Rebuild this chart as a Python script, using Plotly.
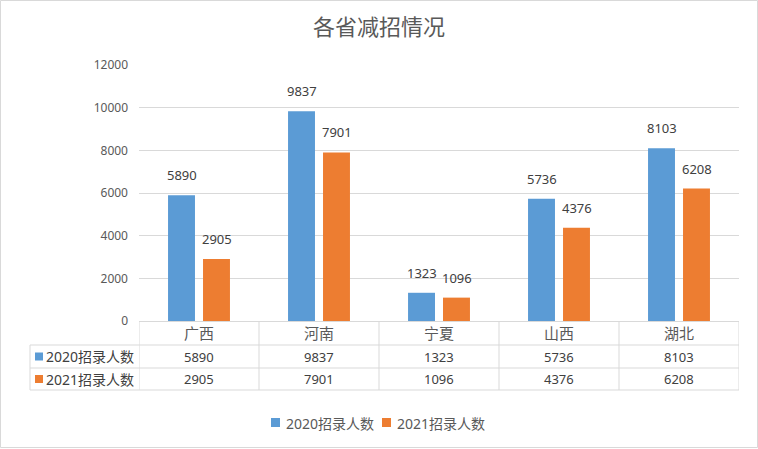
import plotly.graph_objects as go

categories = ["广西", "河南", "宁夏", "山西", "湖北"]
series_names = ["2020招录人数", "2021招录人数"]
values_2020 = [5890, 9837, 1323, 5736, 8103]
values_2021 = [2905, 7901, 1096, 4376, 6208]
colors = ["#5B9BD5", "#ED7D31"]
title_text = "各省减招情况"

FONT = "Noto Sans, Noto Sans CJK SC, sans-serif"
W, H = 758, 449
L, R, T, B = 139, 19, 65, 128
PW, PH = W - L - R, H - T - B

def px_y(y):  # pixel y -> paper y
    return (H - B - y) / PH

def px_x(x):
    return (x - L) / PW

fig = go.Figure()
for name, vals, c in zip(series_names, [values_2020, values_2021], colors):
    fig.add_trace(go.Bar(x=categories, y=vals, name=name, marker_color=c,
                         marker_line_width=0, showlegend=False))

ann = []
shapes = []
# data labels
for vals, sh in [(values_2020, -17.5), (values_2021, 17.5)]:
    for cat, v in zip(categories, vals):
        ann.append(dict(x=cat, y=v, xref="x", yref="y", text=str(v), showarrow=False,
                        xshift=sh, yshift=9, yanchor="bottom", xanchor="center",
                        font=dict(family=FONT, size=13, color="#404040")))

# data table
line_c = "#D9D9D9"
y_rows = [px_y(345), px_y(368), px_y(390)]
for yy in y_rows:
    shapes.append(dict(type="line", xref="paper", yref="paper", x0=px_x(30), x1=1,
                       y0=yy, y1=yy, line=dict(color=line_c, width=1)))
shapes.append(dict(type="line", xref="paper", yref="paper", x0=px_x(30), x1=px_x(30),
                   y0=y_rows[0], y1=y_rows[2], line=dict(color=line_c, width=1)))
for i in range(len(categories) + 1):
    shapes.append(dict(type="line", xref="x", yref="paper", x0=i - 0.5, x1=i - 0.5,
                       y0=0, y1=y_rows[2], line=dict(color=line_c, width=1)))
for cat in categories:
    ann.append(dict(x=cat, y=px_y(333), xref="x", yref="paper", text=cat, showarrow=False,
                    xanchor="center", yanchor="middle",
                    font=dict(family=FONT, size=15, color="#595959")))
for row_y, vals in zip([px_y(356.5), px_y(379)], [values_2020, values_2021]):
    for cat, v in zip(categories, vals):
        ann.append(dict(x=cat, y=row_y, xref="x", yref="paper", text=str(v), showarrow=False,
                        xanchor="center", yanchor="middle",
                        font=dict(family=FONT, size=13, color="#404040")))
for row_y, name, c in zip([356.5, 379], series_names, colors):
    shapes.append(dict(type="rect", xref="paper", yref="paper", x0=px_x(35), x1=px_x(43),
                       y0=px_y(row_y - 4), y1=px_y(row_y + 4), fillcolor=c, line_width=0))
    ann.append(dict(x=px_x(44), y=px_y(row_y), xref="paper", yref="paper", text=name,
                    showarrow=False, xanchor="left", yanchor="middle",
                    font=dict(family=FONT, size=14, color="#404040")))

# legend (bottom)
legend_items = [(271, series_names[0], colors[0]), (382, series_names[1], colors[1])]
for x0, name, c in legend_items:
    shapes.append(dict(type="rect", xref="paper", yref="paper", x0=px_x(x0), x1=px_x(x0 + 9),
                       y0=px_y(427), y1=px_y(418), fillcolor=c, line_width=0))
    ann.append(dict(x=px_x(x0 + 13), y=px_y(423), xref="paper", yref="paper", text=name,
                    showarrow=False, xanchor="left", yanchor="middle",
                    font=dict(family=FONT, size=14, color="#595959")))

# chart border
shapes.append(dict(type="rect", xref="paper", yref="paper", x0=px_x(0.5), x1=px_x(W - 0.5),
                   y0=px_y(H - 1.5), y1=px_y(0.5), line=dict(color="#D9D9D9", width=1),
                   layer="below"))

fig.update_layout(
    width=W, height=H,
    margin=dict(l=L, r=R, t=T, b=B),
    paper_bgcolor="white", plot_bgcolor="white",
    title=dict(text=title_text, x=379 / W, xref="container", xanchor="center",
               y=1 - 27 / H, yref="container", yanchor="middle",
               font=dict(family=FONT, size=22, color="#595959")),
    barmode="group", bargap=0.417, bargroupgap=0.23,
    xaxis=dict(showticklabels=False, showgrid=False, zeroline=False, showline=False,
               ticks="", range=[-0.5, 4.5], fixedrange=True),
    yaxis=dict(range=[0, 12000], dtick=2000, tickformat="d", showgrid=True,
               gridcolor="#D9D9D9", gridwidth=1, zeroline=True, zerolinecolor="#D9D9D9",
               zerolinewidth=1, showline=False, ticks="", ticklabelstandoff=10,
               tickfont=dict(family=FONT, size=12, color="#595959"), fixedrange=True),
    showlegend=False,
    annotations=ann, shapes=shapes,
)

fig.write_html("out.html")
